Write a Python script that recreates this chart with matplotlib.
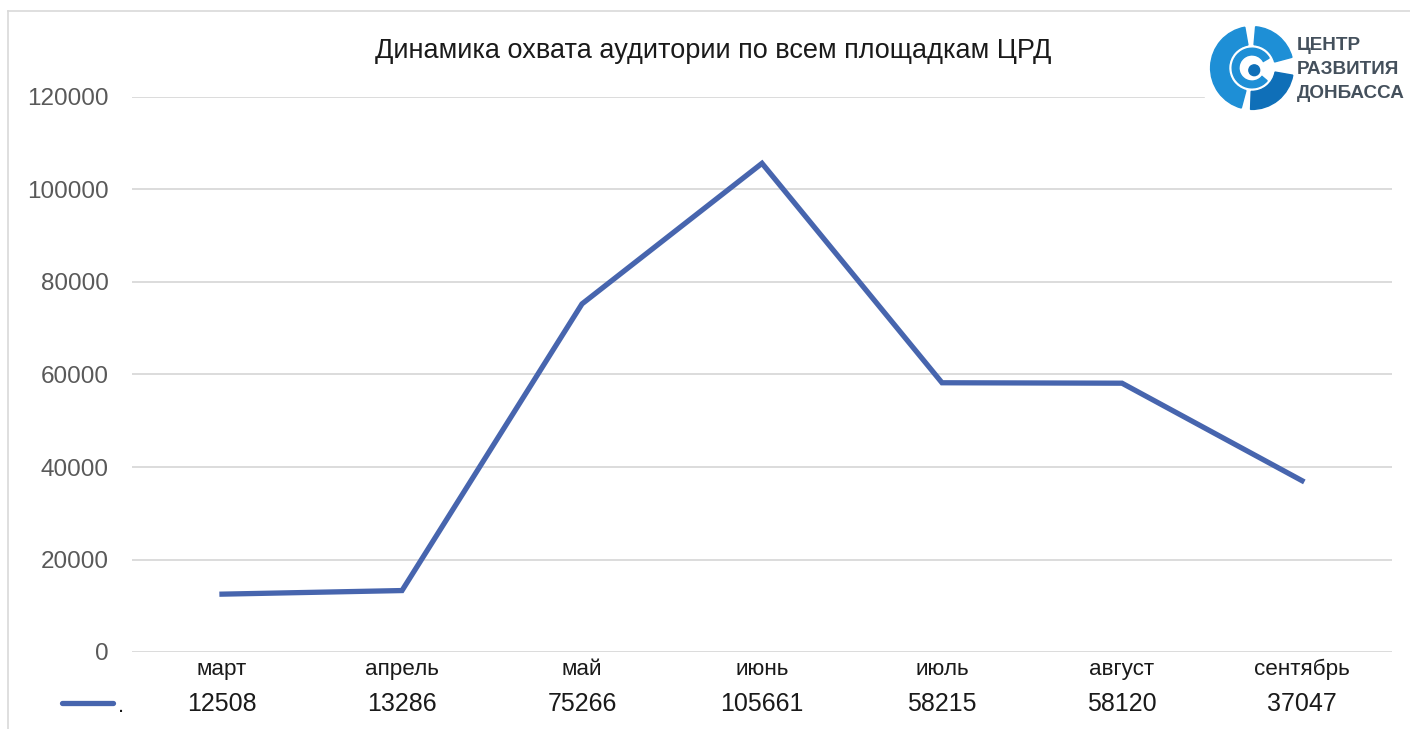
import matplotlib
matplotlib.use("Agg")
import matplotlib.pyplot as plt
from matplotlib.lines import Line2D
from matplotlib.patches import Wedge, Circle, Rectangle
import matplotlib.transforms as mtransforms

months = ["март", "апрель", "май", "июнь", "июль", "август", "сентябрь"]
reach = [12508, 13286, 75266, 105661, 58215, 58120, 37047]
y_ticks = [0, 20000, 40000, 60000, 80000, 100000, 120000]
title = "Динамика охвата аудитории по всем площадкам ЦРД"

plt.rcParams['font.family'] = ['Liberation Sans', 'DejaVu Sans']

W, H = 1410, 729
fig = plt.figure(figsize=(W / 100, H / 100), dpi=100)
line_color = "#4765AE"

# outer chart frame (top and left edges visible)
fig.add_artist(Line2D([8 / W, 1], [1 - 11 / H, 1 - 11 / H], color="#d9d9d9", lw=1.2))
fig.add_artist(Line2D([8 / W, 8 / W], [0, 1 - 11 / H], color="#d9d9d9", lw=1.2))

ax = fig.add_axes([132 / W, 1 - 652 / H, (1392 - 132) / W, (652 - 97) / H])
x = list(range(len(months)))
ax.plot(x, reach, color=line_color, lw=3.8, solid_joinstyle="miter", zorder=3)
ax.set_xlim(-0.5, len(months) - 0.5)
ax.set_ylim(0, 120000)
ax.set_yticks(y_ticks)
ax.set_yticklabels([str(v) for v in y_ticks], fontsize=17.5, color="#595959")
ax.tick_params(axis="y", length=0, pad=17)
ax.grid(axis="y", color="#d9d9d9", lw=1.3)
ax.set_axisbelow(True)
for s in ax.spines.values():
    s.set_visible(False)
ax.set_xticks(x)
ax.set_xticklabels(months, fontsize=16.2, color="#1a1a1a")
ax.tick_params(axis="x", length=0, pad=5)

# data table row
trans = mtransforms.blended_transform_factory(ax.transData, fig.transFigure)
for xi, v in zip(x, reach):
    ax.text(xi, 1 - 704 / H, str(v), transform=trans, ha="center", va="center",
            fontsize=18, color="#1a1a1a")
fig.add_artist(Line2D([62 / W, 113 / W], [1 - 703 / H, 1 - 703 / H], color=line_color,
                      lw=3.8, solid_capstyle="round"))
fig.text(118 / W, 1 - 706 / H, ".", fontsize=16, color="#1a1a1a", ha="left", va="center")

fig.text(713 / W, 1 - 51 / H, title, ha="center", va="center", fontsize=19.5, color="#1a1a1a")

# logo
fig.add_artist(Rectangle((1205 / W, 1 - 115 / H), 205 / W, 95 / H, color="white",
                         transform=fig.transFigure, zorder=5))
lax = fig.add_axes([1207 / W, 1 - 113 / H, 90 / W, 90 / H], zorder=6)
lax.set_xlim(-1, 1)
lax.set_ylim(-1, 1)
lax.set_aspect("equal")
lax.axis("off")
c1, c2 = "#1e8fd6", "#0f6fb8"
lax.add_patch(Wedge((0, 0), 0.92, 100, 255, width=0.4, color=c1))
lax.add_patch(Wedge((0, 0), 0.92, 268, 350, width=0.4, color=c2))
lax.add_patch(Wedge((0, 0), 0.92, 15, 85, width=0.4, color=c1))
lax.add_patch(Wedge((0, 0), 0.44, 30, 320, width=0.15, color=c1))
lax.add_patch(Circle((0.05, -0.05), 0.12, color=c2))
for i, word in enumerate(["ЦЕНТР", "РАЗВИТИЯ", "ДОНБАССА"]):
    fig.text(1297 / W, 1 - (46 + 24 * i) / H, word, ha="left", va="center",
             fontsize=13.6, fontweight="bold", color="#44505c", zorder=7)

fig.savefig("out.png", dpi=100)
